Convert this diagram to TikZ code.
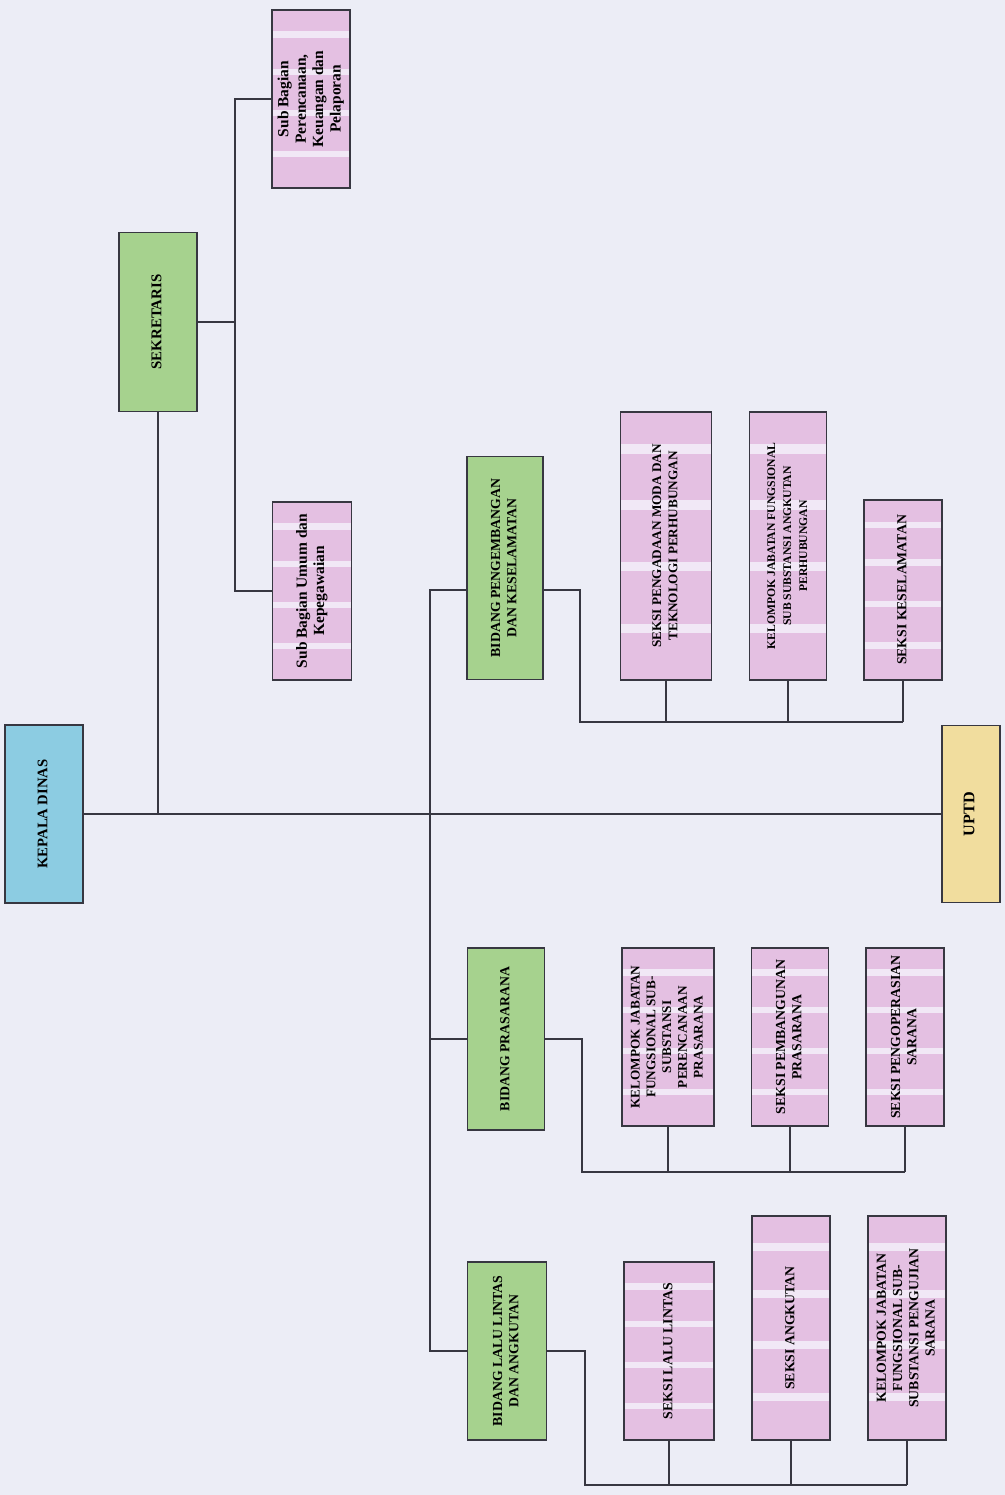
\documentclass[tikz,border=0pt]{standalone}
\usepackage{fontspec}
\setmainfont{Liberation Serif}
\usetikzlibrary{calc}

\definecolor{paper}{RGB}{236,237,246}
\definecolor{boxline}{RGB}{55,55,65}
\definecolor{headblue}{RGB}{140,204,226}
\definecolor{bidgreen}{RGB}{166,210,142}
\definecolor{subpink}{RGB}{228,192,226}
\definecolor{stripe}{RGB}{241,232,246}
\definecolor{uptdyellow}{RGB}{241,221,158}

\newcommand{\vtext}[1]{\rotatebox{90}{\begin{tabular}{@{}c@{}}#1\end{tabular}}}

\begin{document}
\begin{tikzpicture}[x=0.025cm, y=-0.025cm, line width=0.9pt, draw=boxline,
	unit/.style={draw=boxline, line width=1.1pt, inner sep=0pt, font=\fontsize{9.8}{11.6}\selectfont\bfseries},
	boxsize/.style 2 args={minimum width=#1*0.025cm, minimum height=#2*0.025cm},
	headbox/.style={unit, fill=headblue},
	bidbox/.style={unit, fill=bidgreen},
	uptdbox/.style={unit, fill=uptdyellow},
	subbox/.style={unit, fill=subpink, path picture={
		\foreach \f in {0.12,0.33,0.56,0.79} {
			\fill[stripe] ($(path picture bounding box.north west)!\f!(path picture bounding box.south west)$)
				rectangle ($(path picture bounding box.north east)!\f+0.035!(path picture bounding box.south east)$);
		}}},
	subbag/.style={font=\fontsize{11}{12.4}\selectfont\bfseries}]
	\fill[paper] (0,0) rectangle (1005,1495);
	\useasboundingbox (0,0) rectangle (1005,1495);

	\node[headbox, boxsize={78}{178}, font=\fontsize{10.4}{12}\selectfont\bfseries] (kd) at (44,814) {\vtext{KEPALA DINAS}};
	\node[bidbox, boxsize={78}{179}, font=\fontsize{10.6}{12}\selectfont\bfseries] (sek) at (158,322) {\vtext{SEKRETARIS}};
	\node[subbox, subbag, boxsize={78}{178}] (sbp) at (311,99) {\vtext{Sub Bagian\\Perencanaan,\\Keuangan dan\\Pelaporan}};
	\node[subbox, subbag, boxsize={79}{178}] (sbu) at (312,591) {\vtext{Sub Bagian Umum dan\\Kepegawaian}};
	\node[uptdbox, boxsize={58}{177}, font=\fontsize{11.5}{12}\selectfont\bfseries] (uptd) at (971,814) {\vtext{UPTD}};

	\node[bidbox, boxsize={76}{223}] (bp) at (505,568) {\vtext{BIDANG PENGEMBANGAN\\DAN KESELAMATAN}};
	\node[subbox, boxsize={91}{268}, font=\fontsize{9.4}{11.6}\selectfont\bfseries] (spm) at (666,546) {\vtext{SEKSI PENGADAAN MODA DAN\\TEKNOLOGI PERHUBUNGAN}};
	\node[subbox, boxsize={77}{268}, font=\fontsize{8.3}{11.4}\selectfont\bfseries] (kjp) at (788,546) {\vtext{KELOMPOK JABATAN FUNGSIONAL\\SUB SUBSTANSI ANGKUTAN\\PERHUBUNGAN}};
	\node[subbox, boxsize={78}{180}] (sk) at (903,590) {\vtext{SEKSI KESELAMATAN}};

	\node[bidbox, boxsize={77}{182}] (bpr) at (506,1039) {\vtext{BIDANG PRASARANA}};
	\node[subbox, boxsize={92}{178}, font=\fontsize{9.4}{11.2}\selectfont\bfseries] (kjpr) at (668,1037) {\vtext{KELOMPOK JABATAN\\FUNGSIONAL SUB-\\SUBSTANSI\\PERENCANAAN\\PRASARANA}};
	\node[subbox, boxsize={77}{178}] (spp) at (790,1037) {\vtext{SEKSI PEMBANGUNAN\\PRASARANA}};
	\node[subbox, boxsize={78}{178}] (sps) at (905,1037) {\vtext{SEKSI PENGOPERASIAN\\SARANA}};

	\node[bidbox, boxsize={79}{178}] (bll) at (507,1351) {\vtext{BIDANG LALU LINTAS\\DAN ANGKUTAN}};
	\node[subbox, boxsize={90}{178}] (sll) at (669,1351) {\vtext{SEKSI LALU LINTAS}};
	\node[subbox, boxsize={78}{224}] (sa) at (791,1328) {\vtext{SEKSI ANGKUTAN}};
	\node[subbox, boxsize={78}{224}] (kjll) at (907,1328) {\vtext{KELOMPOK JABATAN\\FUNGSIONAL SUB-\\SUBSTANSI PENGUJIAN\\SARANA}};

	\coordinate (sek bus) at (235,322);
	\coordinate (bid bus) at (430,814);
	\coordinate (bp turn) at (580,722);
	\coordinate (bpr turn) at (582,1172);
	\coordinate (bll turn) at (585,1485);

	\draw (kd.east) -- (uptd.west);
	\draw (sek.south) -- (sek.south |- kd.east);
	\draw (sek.east) -- (sek bus);
	\draw (sbp.west) -| (sek bus |- sbu.west) -- (sbu.west);

	\draw ([yshift=-5.5mm]bp.west) -| (bid bus |- bll.west) -- (bll.west);
	\draw (bpr.west) -- (bpr.west -| bid bus);

	\draw ([yshift=-5.5mm]bp.east) -| (bp turn) -- (bp turn -| sk.south);
	\draw (spm.south) -- (spm.south |- bp turn);
	\draw (kjp.south) -- (kjp.south |- bp turn);
	\draw (sk.south) -- (sk.south |- bp turn);

	\draw (bpr.east) -| (bpr turn) -- (bpr turn -| sps.south);
	\draw (kjpr.south) -- (kjpr.south |- bpr turn);
	\draw (spp.south) -- (spp.south |- bpr turn);
	\draw (sps.south) -- (sps.south |- bpr turn);

	\draw (bll.east) -| (bll turn) -- (bll turn -| kjll.south);
	\draw (sll.south) -- (sll.south |- bll turn);
	\draw (sa.south) -- (sa.south |- bll turn);
	\draw (kjll.south) -- (kjll.south |- bll turn);
\end{tikzpicture}
\end{document}
